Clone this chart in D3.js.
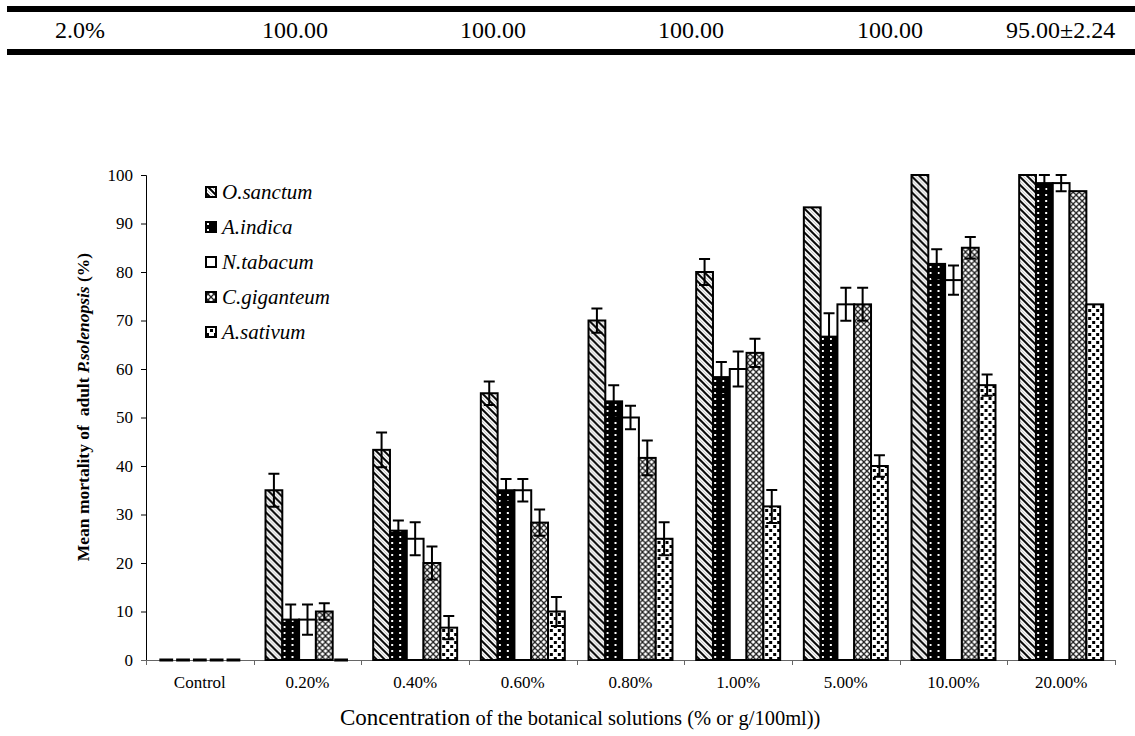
<!DOCTYPE html>
<html>
<head>
<meta charset="utf-8">
<script src="https://cdn.jsdelivr.net/npm/d3@7/dist/d3.min.js"></script>
<style>
body { margin: 0; background: #fff; }
svg text { font-family: "Liberation Serif", "Times New Roman", Times, "DejaVu Serif", serif; fill: #000; }
</style>
</head>
<body>
<svg id="chart" width="1135" height="736"></svg>
<script>
// table row above the figure
var tableCells = ["2.0%", "100.00", "100.00", "100.00", "100.00", "95.00\u00b12.24"];
var tableX = [55, 262, 460, 658, 857, 1006];

var categories = ["Control", "0.20%", "0.40%", "0.60%", "0.80%", "1.00%", "5.00%", "10.00%", "20.00%"];
var series = ["O.sanctum", "A.indica", "N.tabacum", "C.giganteum", "A.sativum"];

// mean mortality (%) per series, one value per category
var oSanctum   = [0, 35, 43.33, 55, 70, 80, 93.33, 100, 100];
var aIndica    = [0, 8.33, 26.67, 35, 53.33, 58.33, 66.67, 81.67, 98.33];
var nTabacum   = [0, 8.33, 25, 35, 50, 60, 73.33, 78.33, 98.33];
var cGiganteum = [0, 10, 20, 28.33, 41.67, 63.33, 73.33, 85, 96.67];
var aSativum   = [0, 0, 6.67, 10, 25, 31.67, 40, 56.67, 73.33];

// standard errors
var oSanctumErr   = [0, 3.4, 3.6, 2.4, 2.5, 2.7, 0, 0, 0];
var aIndicaErr    = [0, 3.1, 2.1, 2.3, 3.3, 3.1, 4.8, 3, 1.67];
var nTabacumErr   = [0, 3.1, 3.4, 2.3, 2.4, 3.6, 3.4, 3, 1.67];
var cGiganteumErr = [0, 1.7, 3.4, 2.7, 3.6, 2.9, 3.4, 2.2, 0];
var aSativumErr   = [0, 0, 2.4, 3, 3.4, 3.4, 2.2, 2.2, 0];

var yTicks = [0, 10, 20, 30, 40, 50, 60, 70, 80, 90, 100];

var values = [oSanctum, aIndica, nTabacum, cGiganteum, aSativum];
var errors = [oSanctumErr, aIndicaErr, nTabacumErr, cGiganteumErr, aSativumErr];
var serif = "'Liberation Serif', 'Times New Roman', Times, 'DejaVu Serif', serif";

var svg = d3.select("#chart");

// ---- table row ----
svg.append("rect").attr("x", 7).attr("y", 6).attr("width", 1128).attr("height", 6).attr("fill", "#000");
svg.append("rect").attr("x", 7).attr("y", 49).attr("width", 1128).attr("height", 6).attr("fill", "#000");
svg.selectAll("text.cell").data(tableCells).enter().append("text")
  .attr("class", "cell")
  .attr("x", function (d, i) { return tableX[i]; })
  .attr("y", 38)
  .style("font-family", serif)
  .style("font-size", "24px")
  .text(function (d) { return d; });

// ---- patterns ----
var defs = svg.append("defs");

var p0 = defs.append("pattern").attr("id", "pat0").attr("patternUnits", "userSpaceOnUse")
  .attr("width", 8).attr("height", 8);
p0.append("rect").attr("width", 8).attr("height", 8).attr("fill", "#fff");
p0.append("path").attr("d", "M-2,-2L10,10M-2,6L2,10M6,-2L10,2").attr("stroke", "#000").attr("stroke-width", 2);
p0.append("path").attr("d", "M2,-2L10,6M-2,2L6,10").attr("stroke", "#aaa").attr("stroke-width", 0.8);

var p1 = defs.append("pattern").attr("id", "pat1").attr("patternUnits", "userSpaceOnUse")
  .attr("width", 8).attr("height", 6);
p1.append("rect").attr("width", 8).attr("height", 6).attr("fill", "#000");
p1.append("rect").attr("x", 2).attr("y", 2).attr("width", 2).attr("height", 2).attr("fill", "#fff");

var p3 = defs.append("pattern").attr("id", "pat3").attr("patternUnits", "userSpaceOnUse")
  .attr("width", 6).attr("height", 6);
p3.append("rect").attr("width", 6).attr("height", 6).attr("fill", "#fff");
p3.append("path").attr("d", "M0,0L6,6M6,0L0,6").attr("stroke", "#222").attr("stroke-width", 1.3);

var p4 = defs.append("pattern").attr("id", "pat4").attr("patternUnits", "userSpaceOnUse")
  .attr("width", 8).attr("height", 8);
p4.append("rect").attr("width", 8).attr("height", 8).attr("fill", "#fff");
p4.append("rect").attr("x", 1).attr("y", 1).attr("width", 3).attr("height", 3).attr("fill", "#000");
p4.append("rect").attr("x", 5).attr("y", 5).attr("width", 3).attr("height", 3).attr("fill", "#000");

var fills = ["url(#pat0)", "url(#pat1)", "#fff", "url(#pat3)", "url(#pat4)"];

// ---- scales ----
var x = d3.scaleBand().domain(categories).range([146, 1115]).paddingInner(0.22).paddingOuter(0.11);
var xs = d3.scaleBand().domain(series).range([0, x.bandwidth()]);
var y = d3.scaleLinear().domain([0, 100]).range([660, 175]);

// ---- axes (drawn under the bars) ----
var yAxis = svg.append("g").attr("transform", "translate(146,0)")
  .call(d3.axisLeft(y).tickValues(yTicks).tickSize(5).tickPadding(8).tickFormat(d3.format("d")));
yAxis.attr("font-family", null);
yAxis.select(".domain").attr("stroke", "#000").attr("d", "M-5,175.5H0.5V660.5H-5");
yAxis.selectAll("text").style("font-family", serif).style("font-size", "17px");
yAxis.selectAll("line").attr("stroke", "#000");

var xAxis = svg.append("g").attr("transform", "translate(0,660)");
xAxis.append("line").attr("x1", 141).attr("x2", 1115).attr("y1", 0.5).attr("y2", 0.5).attr("stroke", "#666");
var bounds = [146].concat(categories.map(function (c) { return x(c) + x.bandwidth() + x.step() * x.paddingInner() / 2; }));
xAxis.selectAll("line.tk").data(bounds).enter().append("line")
  .attr("class", "tk")
  .attr("x1", function (d) { return Math.round(d) + 0.5; })
  .attr("x2", function (d) { return Math.round(d) + 0.5; })
  .attr("y1", 0).attr("y2", 5).attr("stroke", "#666");
xAxis.selectAll("text").data(categories).enter().append("text")
  .attr("x", function (d) { return x(d) + x.bandwidth() / 2; })
  .attr("y", 28)
  .attr("text-anchor", "middle")
  .style("font-family", serif)
  .style("font-size", "17px")
  .text(function (d) { return d; });

// ---- bars ----
var groups = svg.selectAll("g.grp").data(categories).enter().append("g")
  .attr("class", "grp")
  .attr("transform", function (d) { return "translate(" + x(d) + ",0)"; });

groups.each(function (cat, ci) {
  var g = d3.select(this);
  series.forEach(function (s, si) {
    var v = values[si][ci];
    if (v === 0) {
      // zero values show as a short thick dash on the axis
      g.append("rect")
        .attr("x", xs(s) + 1.5)
        .attr("y", y(0) - 1.5)
        .attr("width", xs.bandwidth() - 3)
        .attr("height", 3)
        .attr("fill", "#000");
      return;
    }
    g.append("rect")
      .attr("x", xs(s))
      .attr("y", y(v))
      .attr("width", xs.bandwidth())
      .attr("height", y(0) - y(v))
      .attr("fill", fills[si])
      .attr("stroke", "#000")
      .attr("stroke-width", 2);
  });
  series.forEach(function (s, si) {
    var v = values[si][ci], e = errors[si][ci];
    if (!e) return;
    var cx = xs(s) + xs.bandwidth() / 2;
    var top = Math.min(100, v + e), bot = v - e;
    g.append("path")
      .attr("d", "M" + (cx - 5.5) + "," + y(top) + "H" + (cx + 5.5) +
        "M" + cx + "," + y(top) + "V" + y(bot) +
        "M" + (cx - 5.5) + "," + y(bot) + "H" + (cx + 5.5))
      .attr("stroke", "#000").attr("stroke-width", 2).attr("fill", "none");
  });
});

// ---- titles ----
var xt = svg.append("text").attr("x", 340).attr("y", 725).style("font-family", serif);
xt.append("tspan").style("font-size", "23px").text("Concentration");
xt.append("tspan").style("font-size", "20.5px").text(" of the botanical solutions (% or g/100ml))");

var yt = svg.append("text")
  .attr("transform", "translate(89,407) rotate(-90)")
  .attr("text-anchor", "middle")
  .style("font-family", serif)
  .style("font-size", "17.5px").style("font-weight", "bold")
  .attr("xml:space", "preserve");
yt.append("tspan").text("Mean mortality of  adult ");
yt.append("tspan").style("font-style", "italic").text("P.solenopsis");
yt.append("tspan").text(" (%)");

// ---- legend ----
var legend = svg.selectAll("g.leg").data(series).enter().append("g")
  .attr("class", "leg")
  .attr("transform", function (d, i) { return "translate(205," + (192 + i * 35) + ")"; });
legend.append("rect").attr("x", 1).attr("y", -5).attr("width", 10).attr("height", 10)
  .attr("fill", function (d, i) { return fills[i]; })
  .attr("stroke", "#000").attr("stroke-width", 2);
legend.append("text").attr("x", 17).attr("y", 7)
  .style("font-family", serif)
  .style("font-size", "21px").style("font-style", "italic")
  .text(function (d) { return d; });
</script>
</body>
</html>
